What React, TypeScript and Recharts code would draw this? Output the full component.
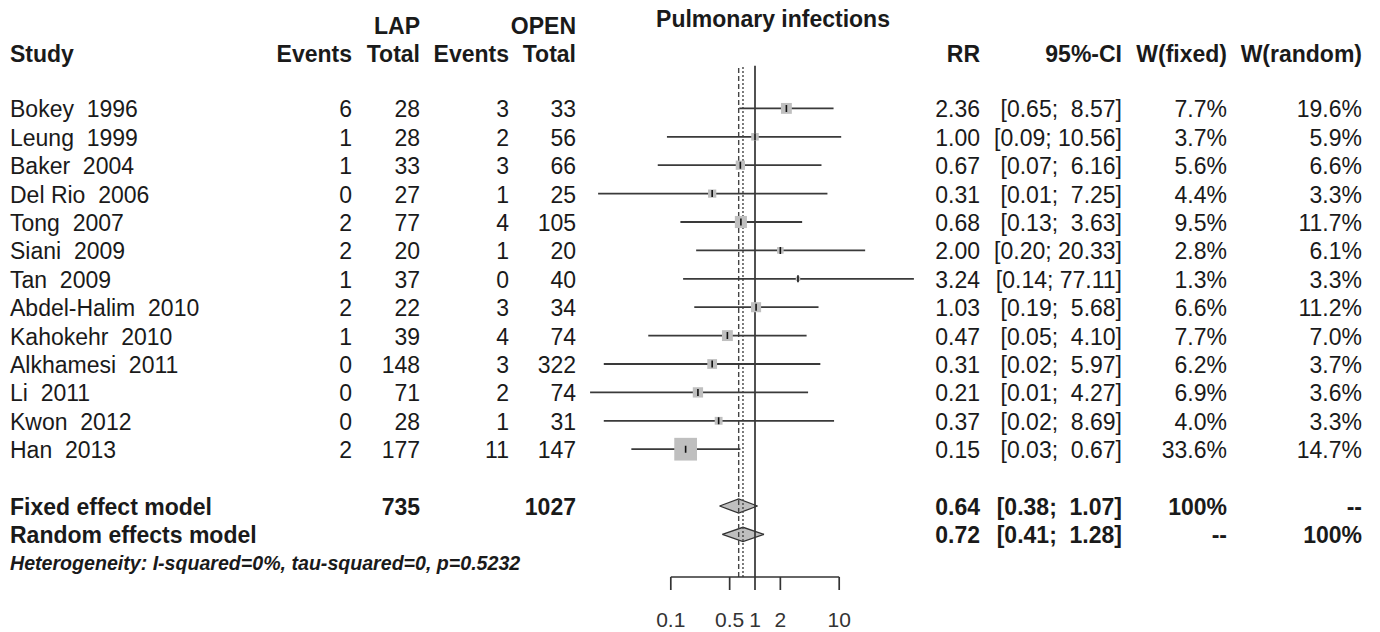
import { ComposedChart, XAxis, YAxis, Scatter, Area, ReferenceLine } from "recharts";

const studies = [
  "Bokey  1996", "Leung  1999", "Baker  2004", "Del Rio  2006", "Tong  2007",
  "Siani  2009", "Tan  2009", "Abdel-Halim  2010", "Kahokehr  2010",
  "Alkhamesi  2011", "Li  2011", "Kwon  2012", "Han  2013",
];
const lapEvents = [6, 1, 1, 0, 2, 2, 1, 2, 1, 0, 0, 0, 2];
const lapTotal = [28, 28, 33, 27, 77, 20, 37, 22, 39, 148, 71, 28, 177];
const openEvents = [3, 2, 3, 1, 4, 1, 0, 3, 4, 3, 2, 1, 11];
const openTotal = [33, 56, 66, 25, 105, 20, 40, 34, 74, 322, 74, 31, 147];
const rr = [2.36, 1.0, 0.67, 0.31, 0.68, 2.0, 3.24, 1.03, 0.47, 0.31, 0.21, 0.37, 0.15];
const ciLow = [0.65, 0.09, 0.07, 0.0137, 0.13, 0.2, 0.14, 0.19, 0.054, 0.016, 0.011, 0.016, 0.034];
const ciHigh = [8.57, 10.56, 6.16, 7.25, 3.63, 20.33, 77.11, 5.68, 4.1, 5.97, 4.27, 8.69, 0.67];
const wFixed = [7.7, 3.7, 5.6, 4.4, 9.5, 2.8, 1.3, 6.6, 7.7, 6.2, 6.9, 4.0, 33.6];
const wRandom = [19.6, 5.9, 6.6, 3.3, 11.7, 6.1, 3.3, 11.2, 7.0, 3.7, 3.6, 3.3, 14.7];

const modelNames = ["Fixed effect model", "Random effects model"];
const modelRR = [0.64, 0.72];
const modelLow = [0.38, 0.41];
const modelHigh = [1.07, 1.28];
const modelWFixed = ["100%", "--"];
const modelWRandom = ["--", "100%"];
const lapTotalSum = 735;
const openTotalSum = 1027;
const heterogeneity = "Heterogeneity: I-squared=0%, tau-squared=0, p=0.5232";
const axisTicks = [0.1, 0.5, 1, 2, 10];

const FONT = "'Liberation Sans', Arial, sans-serif";
const INK = "#1a1a1a";
const LINE = "#333";
const GREY = "#bfbfbf";

const COL = { study: 10, lapEv: 352, lapTot: 420, openEv: 509, openTot: 576, rr: 980, ci: 1122, wf: 1227, wr: 1362 };

const FIXED_ROW = 14;
const RANDOM_ROW = 15;
const HET_ROW = 16;
const rowTicks = [...studies.map((_, i) => i), FIXED_ROW, RANDOM_ROW, HET_ROW];

const fmtCI = (lo: number, hi: number) =>
  `[${lo.toFixed(2)}; ${hi.toFixed(2).padStart(5, " ")}]`;

const boxData = rr.map((v, i) => ({ x: v, y: i, w: wFixed[i] }));

const diamonds = modelRR.map((v, m) => {
  const row = FIXED_ROW + m;
  return [
    { x: modelLow[m], d: [row, row] },
    { x: v, d: [row - 0.25, row + 0.25] },
    { x: modelHigh[m], d: [row, row] },
  ];
});

function Txt({ x, y, anchor = "end", bold = false, italic = false, size = 23, children }: any) {
  return (
    <text
      x={x}
      y={y}
      textAnchor={anchor}
      fontFamily={FONT}
      fontSize={size}
      fontWeight={bold ? "bold" : "normal"}
      fontStyle={italic ? "italic" : "normal"}
      fill={INK}
      xmlSpace="preserve"
      style={{ whiteSpace: "pre" }}
    >
      {children}
    </text>
  );
}

function RowTick(props: any) {
  const { y, payload } = props;
  const r = payload.value as number;
  const by = y + 9;
  if (r < studies.length) {
    return (
      <g>
        <Txt x={COL.study} y={by} anchor="start">{studies[r]}</Txt>
        <Txt x={COL.lapEv} y={by}>{lapEvents[r]}</Txt>
        <Txt x={COL.lapTot} y={by}>{lapTotal[r]}</Txt>
        <Txt x={COL.openEv} y={by}>{openEvents[r]}</Txt>
        <Txt x={COL.openTot} y={by}>{openTotal[r]}</Txt>
        <Txt x={COL.rr} y={by}>{rr[r].toFixed(2)}</Txt>
        <Txt x={COL.ci} y={by}>{fmtCI(ciLow[r], ciHigh[r])}</Txt>
        <Txt x={COL.wf} y={by}>{wFixed[r].toFixed(1) + "%"}</Txt>
        <Txt x={COL.wr} y={by}>{wRandom[r].toFixed(1) + "%"}</Txt>
      </g>
    );
  }
  if (r === FIXED_ROW || r === RANDOM_ROW) {
    const m = r - FIXED_ROW;
    return (
      <g>
        <Txt x={COL.study} y={by} anchor="start" bold>{modelNames[m]}</Txt>
        {m === 0 && <Txt x={COL.lapTot} y={by} bold>{lapTotalSum}</Txt>}
        {m === 0 && <Txt x={COL.openTot} y={by} bold>{openTotalSum}</Txt>}
        <Txt x={COL.rr} y={by} bold>{modelRR[m].toFixed(2)}</Txt>
        <Txt x={COL.ci} y={by} bold>{fmtCI(modelLow[m], modelHigh[m])}</Txt>
        <Txt x={COL.wf} y={by} bold>{modelWFixed[m]}</Txt>
        <Txt x={COL.wr} y={by} bold>{modelWRandom[m]}</Txt>
      </g>
    );
  }
  return (
    <Txt x={COL.study} y={y + 7} anchor="start" bold italic size={19.6}>{heterogeneity}</Txt>
  );
}

function AxisTick(props: any) {
  const { x, y, payload } = props;
  return (
    <text x={x} y={y + 36.5} textAnchor="middle" fontFamily={FONT} fontSize={21} fill="#333">
      {String(payload.value)}
    </text>
  );
}

function StudyBox(props: any) {
  const { cx, cy, payload } = props;
  if (cx == null || cy == null) return <g />;
  const s = 3.92 * Math.sqrt(payload.w);
  return (
    <g>
      <rect x={cx - s / 2} y={cy - s / 2} width={s} height={s} fill={GREY} />
      <line x1={cx} x2={cx} y1={cy - 3.5} y2={cy + 3.5} stroke="#111" strokeWidth={1.6} />
    </g>
  );
}

export default function App() {
  return (
    <div style={{ position: "absolute", left: 0, top: 0, width: 1380, height: 632, background: "#fff" }}>
      <ComposedChart
        width={1380}
        height={632}
        margin={{ top: 65.8, right: 456.6, bottom: 0, left: 0 }}
      >
        <XAxis
          type="number"
          dataKey="x"
          scale="log"
          domain={[0.01, 100]}
          allowDataOverflow
          ticks={axisTicks}
          interval={0}
          axisLine={false}
          tickSize={13}
          tickMargin={0}
          tickLine={{ stroke: LINE, strokeWidth: 1.7 }}
          tick={<AxisTick />}
          height={55}
        />
        <YAxis
          type="number"
          dataKey="y"
          domain={[-1.5, 16.5]}
          allowDataOverflow
          reversed
          ticks={rowTicks}
          interval={0}
          axisLine={false}
          tickLine={false}
          tick={<RowTick />}
          width={586.6}
        />
        <ReferenceLine x={1} stroke={LINE} strokeWidth={1.7} />
        <ReferenceLine x={modelRR[0]} stroke="#444" strokeWidth={1.4} strokeDasharray="5 3" />
        <ReferenceLine x={modelRR[1]} stroke="#444" strokeWidth={1.4} strokeDasharray="2 2" />
        <ReferenceLine
          segment={[{ x: axisTicks[0], y: 16.5 }, { x: axisTicks[axisTicks.length - 1], y: 16.5 }]}
          stroke={LINE}
          strokeWidth={1.7}
        />
        {studies.map((_, i) => (
          <ReferenceLine
            key={i}
            segment={[{ x: ciLow[i], y: i }, { x: ciHigh[i], y: i }]}
            stroke="#3a3a3a"
            strokeWidth={1.8}
          />
        ))}
        {diamonds.map((d, m) => (
          <Area
            key={m}
            data={d}
            dataKey="d"
            type="linear"
            fill={GREY}
            fillOpacity={1}
            stroke="#333"
            strokeWidth={1.3}
            dot={false}
            activeDot={false}
            isAnimationActive={false}
          />
        ))}
        <Scatter data={boxData} shape={<StudyBox />} isAnimationActive={false} />
      </ComposedChart>
      <svg
        width={1380}
        height={632}
        style={{ position: "absolute", left: 0, top: 0, pointerEvents: "none" }}
      >
        <Txt x={773} y={27} anchor="middle" bold>Pulmonary infections</Txt>
        <Txt x={COL.lapTot} y={34} bold>LAP</Txt>
        <Txt x={COL.openTot} y={34} bold>OPEN</Txt>
        <Txt x={COL.study} y={62} anchor="start" bold>Study</Txt>
        <Txt x={COL.lapEv} y={62} bold>Events</Txt>
        <Txt x={COL.lapTot} y={62} bold>Total</Txt>
        <Txt x={COL.openEv} y={62} bold>Events</Txt>
        <Txt x={COL.openTot} y={62} bold>Total</Txt>
        <Txt x={COL.rr} y={62} bold>RR</Txt>
        <Txt x={COL.ci} y={62} bold>95%-CI</Txt>
        <Txt x={COL.wf} y={62} bold>W(fixed)</Txt>
        <Txt x={COL.wr} y={62} bold>W(random)</Txt>
      </svg>
    </div>
  );
}
